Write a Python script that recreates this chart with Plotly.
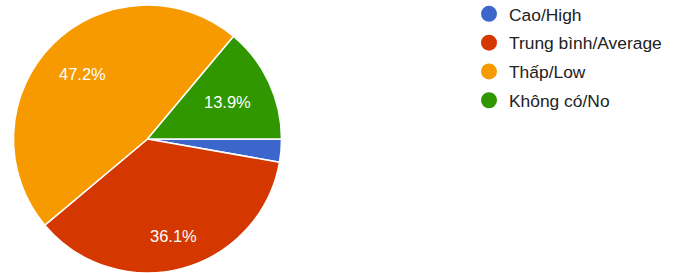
import math
import plotly.graph_objects as go

labels = ["Cao/High", "Trung bình/Average", "Thấp/Low", "Không có/No"]
values = [1, 13, 17, 5]
colors = ["#3d66cc", "#d43700", "#f69a00", "#309700"]

W, H = 674, 273
CX, CY, R = 147.5, 139.0, 134.0  # pie centre / radius in pixels
FONT = "Liberation Sans, Arial"

fig = go.Figure()
fig.add_trace(go.Pie(
    labels=labels, values=values, sort=False, direction="clockwise", rotation=90,
    marker=dict(colors=colors, line=dict(color="white", width=1.5)),
    textinfo="none", showlegend=False, hoverinfo="label+percent",
    domain=dict(x=[(CX - R) / W, (CX + R) / W],
                y=[max(0, 1 - (CY + R) / H), min(1, 1 - (CY - R) / H)]),
))

# percentage labels placed like Google Charts (outer edge of text box at ~0.855 R)
total = sum(values)
cum = 0
for v in values:
    frac = v / total
    mid = (cum + frac / 2) * 2 * math.pi  # clockwise from 3 o'clock
    cum += frac
    if frac < 0.05:
        continue
    txt = f"{frac * 100:.1f}%"
    hw, hh = 25.0, 8.0
    c, s = math.cos(mid), math.sin(mid)
    r = 0.855 * R - (hw * abs(c) + hh * abs(s))
    px, py = CX + r * c, CY + r * s
    fig.add_annotation(x=px / W, y=1 - py / H, xref="paper", yref="paper",
                       text=txt, showarrow=False, xanchor="center", yanchor="middle",
                       font=dict(family=FONT, size=16.5, color="white"))

for lab, col in zip(labels, colors):
    fig.add_trace(go.Scatter(
        x=[None], y=[None], mode="markers", name=lab, legendgroup=lab,
        marker=dict(color=col, size=18, symbol="circle"),
    ))
fig.update_layout(
    width=W, height=H, margin=dict(l=0, r=0, t=0, b=0, autoexpand=False),
    paper_bgcolor="white", plot_bgcolor="white",
    xaxis=dict(visible=False), yaxis=dict(visible=False),
    showlegend=True,
    legend=dict(x=469 / W, y=1 + 4 / H, xanchor="left", yanchor="top",
                font=dict(family=FONT, size=17.4, color="#222222"),
                tracegroupgap=3.2, itemwidth=30, bgcolor="rgba(0,0,0,0)"),
)
fig.write_html("out.html")
